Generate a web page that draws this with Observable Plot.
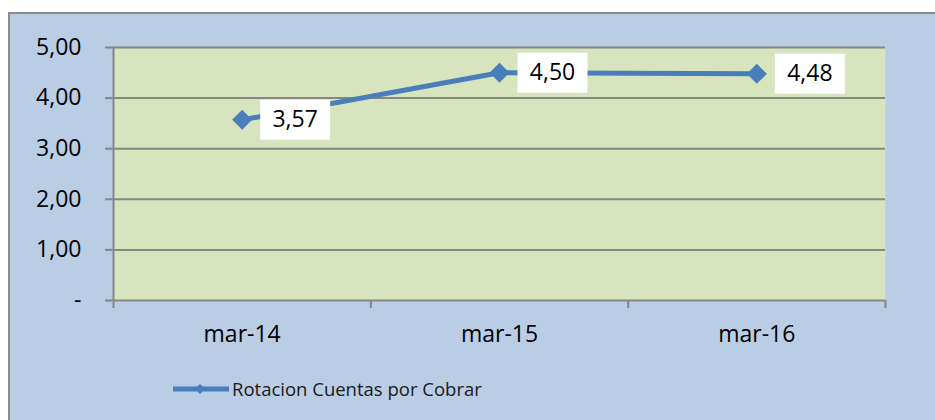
<!DOCTYPE html>
<html><head><meta charset="utf-8">
<script src="https://cdn.jsdelivr.net/npm/d3@7"></script>
<script src="https://cdn.jsdelivr.net/npm/@observablehq/plot@0.6"></script>
<style>
body{margin:0;background:#fff;font-family:"Open Sans",sans-serif;}
#wrap{position:relative;width:935px;height:420px;overflow:hidden;}
#frame{position:absolute;left:8px;top:12px;width:960px;height:440px;background:#B9CDE5;border-left:2px solid #8a8a8a;border-top:2px solid #8a8a8a;}
#chart{position:absolute;left:0;top:0;}
#legend{position:absolute;left:173px;top:376px;display:flex;align-items:center;font-size:18.5px;color:#1a1a1a;}
#legend svg{margin-right:3px;}
</style></head><body>
<div id="wrap"><div id="frame"></div><div id="chart"></div><div id="legend"></div></div>
<script>
const categories = ["mar-14", "mar-15", "mar-16"];
const values = [3.57, 4.50, 4.48];
const yTicks = [0, 1, 2, 3, 4, 5];
const seriesName = "Rotacion Cuentas por Cobrar";

const lineColor = "#4A7EBB";
const fmt = v => v === 0 ? "-" : v.toFixed(2).replace(".", ",");
const data = categories.map((c, i) => ({c, i: i + 0.5, v: values[i]}));
const boxSymbol = {draw(ctx) { ctx.rect(-35, -20, 70, 40); }};

const plot = Plot.plot({
  width: 935, height: 360,
  marginTop: 47, marginBottom: 60, marginLeft: 113, marginRight: 50,
  style: {background: "transparent", fontFamily: "Open Sans", fontSize: "23px", color: "#000"},
  x: {type: "linear", domain: [0, 3]},
  y: {domain: [0, 5]},
  marks: [
    Plot.frame({fill: "#D7E4BD", stroke: null}),
    Plot.ruleY(yTicks, {stroke: "#868686", strokeWidth: 2}),
    Plot.ruleX([0], {stroke: "#868686", strokeWidth: 2}),
    Plot.axisY({ticks: yTicks, tickSize: 8, tickPadding: 24, tickFormat: fmt, label: null,
      stroke: "#868686", strokeWidth: 2, fill: "#000", fontSize: 23}),
    Plot.axisX({ticks: [0, 1, 2, 3], tickSize: 8, tickFormat: () => "", label: null,
      stroke: "#868686", strokeWidth: 2}),
    Plot.axisX({ticks: data.map(d => d.i), tickSize: 0, tickPadding: 25, label: null,
      tickFormat: t => categories[Math.floor(t)], fill: "#000", fontSize: 23}),
    Plot.line(data, {x: "i", y: "v", stroke: lineColor, strokeWidth: 5}),
    Plot.dot(data, {x: "i", y: "v", symbol: "diamond2", r: 9, fill: lineColor, stroke: null}),
    Plot.dot(data, {x: "i", y: "v", symbol: boxSymbol, fill: "white", stroke: null, dx: 53}),
    Plot.text(data, {x: "i", y: "v", text: d => fmt(d.v), dx: 53, fontSize: 23, fill: "#000"})
  ]
});
document.getElementById("chart").appendChild(plot);

const lg = document.getElementById("legend");
lg.innerHTML = `<svg width="56" height="12"><line x1="0" x2="56" y1="6" y2="6" stroke="${lineColor}" stroke-width="5" stroke-linecap="round"/><path d="M27,1 L32,6 L27,11 L22,6 Z" fill="${lineColor}"/></svg><span>${seriesName}</span>`;
</script>
</body></html>
